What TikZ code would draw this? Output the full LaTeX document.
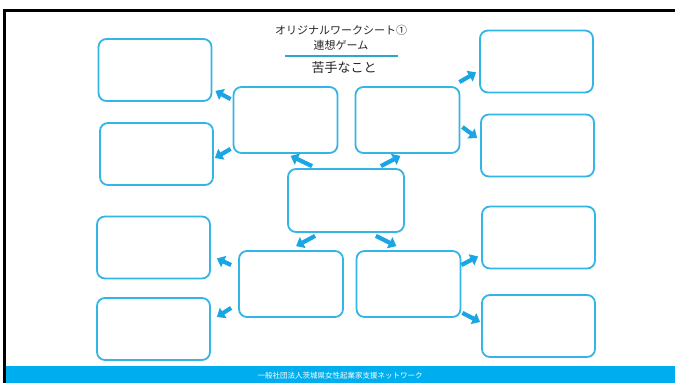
\documentclass[tikz,border=0pt]{standalone}
\usepackage{fontspec}
\newfontfamily\jpfont{Noto Sans CJK JP}
\usepackage{tikz}
\usetikzlibrary{arrows.meta,positioning}
\definecolor{cline}{HTML}{33B5E6}
\definecolor{carr}{HTML}{1AA6E4}
\definecolor{cband}{HTML}{00AEEF}
\definecolor{crule}{HTML}{2AA9CC}
\tikzset{
  ibox/.style={draw=cline, line width=1.8pt, rounded corners=8pt, fill=white, inner sep=0pt},
  outbox/.style={ibox, minimum width=113pt, minimum height=62pt},
  midbox/.style={ibox, minimum width=104pt, minimum height=66pt},
  cenbox/.style={ibox, minimum width=116pt, minimum height=63pt},
  pre/.style={-{Triangle[length=7.5pt,width=12pt]}, line width=4.2pt, draw=carr},
  ttl/.style={font=\jpfont\fontsize{11}{12}\selectfont, text=black!85, inner sep=0pt},
}
\begin{document}
\begin{tikzpicture}[x=1pt,y=-1pt]
\useasboundingbox (0,0) rectangle (675,383);
% frame and footer band
\draw[line width=2.5pt] (675,10.5) -- (4.5,10.5) -- (4.5,383);
\fill[cband] (5.8,366) rectangle (675,383);
\node[font=\jpfont\fontsize{7.5}{8}\selectfont, text=white, inner sep=0pt] (foot) at (340,376) {一般社団法人茨城県女性起業家支援ネットワーク};
% title
\node[ttl] (t1) at (341,30) {オリジナルワークシート①};
\node[ttl] (t2) at (341,45) {連想ゲーム};
\draw[crule, line width=1.6pt] (285,56) -- (398,56);
\node[ttl, font=\jpfont\fontsize{13}{14}\selectfont] (t3) at (344,68) {苦手なこと};
% boxes
\node[cenbox] (c) at (346,200.5) {};
\node[midbox] (ul) at (285.5,120) {};
\node[midbox] (ur) at (407.5,120) {};
\node[midbox] (ll) at (291,284) {};
\node[midbox] (lr) at (408.5,284) {};
\node[outbox] (l1) at (155,70) {};
\node[outbox] (l2) at (156.5,154) {};
\node[outbox] (l3) at (153.5,247.5) {};
\node[outbox] (l4) at (153.5,329) {};
\node[outbox] (r1) at (536.5,61.5) {};
\node[outbox] (r2) at (537.5,145.5) {};
\node[outbox] (r3) at (538.5,237.5) {};
\node[outbox] (r4) at (538.5,326) {};
% arrows
\draw[pre] ([shift={(25,-2)}]c.north west) -- ([shift={(58,2)}]ul.south west);
\draw[pre] ([shift={(-24,-2)}]c.north east) -- ([shift={(-60,2)}]ur.south east);
\draw[pre] ([shift={(28,3)}]c.south west) -- ([shift={(58,-4)}]ll.north west);
\draw[pre] ([shift={(-29,3)}]c.south east) -- ([shift={(-65,-4)}]lr.north east);
\draw[pre] ([shift={(-2,13)}]ul.north west) -- ([shift={(3,-11)}]l1.south east);
\draw[pre] ([shift={(-2,-5)}]ul.south west) -- ([shift={(1,4)}]l2.east);
\draw[pre] ([shift={(-1,-4)}]ur.north east) -- ([shift={(-3,-21)}]r1.south west);
\draw[pre] ([shift={(2,7)}]ur.east) -- ([shift={(-3,-7.5)}]r2.west);
\draw[pre] ([shift={(-7,-19)}]ll.west) -- ([shift={(6,-21)}]l3.south east);
\draw[pre] ([shift={(-7,-10)}]ll.south west) -- ([shift={(6,-12)}]l4.east);
\draw[pre] ([shift={(0,-19)}]lr.east) -- ([shift={(-3,-13)}]r3.south west);
\draw[pre] ([shift={(1,-5)}]lr.south east) -- ([shift={(-1,-4)}]r4.west);
\end{tikzpicture}
\end{document}
